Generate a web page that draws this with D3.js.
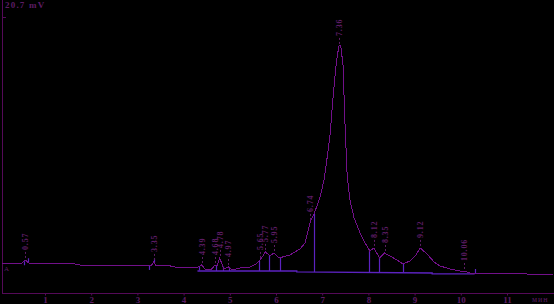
<!DOCTYPE html>
<html>
<head>
<meta charset="utf-8">
<script src="https://cdn.jsdelivr.net/npm/d3@7"></script>
<style>
  html, body { margin: 0; padding: 0; background: #000; }
  svg { display: block; }
  .tick text { font-family: "Liberation Serif", serif; }
</style>
</head>
<body>
<svg id="chart" width="554" height="304"></svg>
<script>
// chromatogram trace, time in min / signal in mV
var traceT = [0.07, 0.24, 0.50, 0.57, 0.65, 1.15, 1.22, 1.65, 1.76, 2.52, 2.62, 3.30, 3.35, 3.41, 3.71, 3.81,
              4.31, 4.39, 4.48, 4.59, 4.68, 4.72, 4.78, 4.87, 4.97, 5.05, 5.22, 5.44, 5.57, 5.65, 5.72, 5.77,
              5.87, 5.95, 6.07, 6.30, 6.52, 6.63, 6.70, 6.74, 6.84, 6.95, 7.04, 7.10, 7.17, 7.23, 7.30, 7.36,
              7.40, 7.45, 7.49, 7.54, 7.60, 7.69, 7.82, 7.93, 8.03, 8.12, 8.24, 8.35, 8.58, 8.75, 8.90, 9.03,
              9.12, 9.27, 9.42, 9.55, 9.77, 9.98, 10.06, 10.20, 10.85, 12.0];
var traceV = [2.25, 2.25, 2.25, 2.48, 2.25, 2.25, 2.18, 2.18, 2.10, 2.10, 2.03, 2.03, 2.33, 2.03, 2.03, 1.95,
              1.95, 2.10, 1.73, 1.73, 2.10, 2.03, 2.63, 1.80, 1.95, 1.73, 1.88, 1.95, 2.18, 2.48, 2.78, 3.08,
              2.78, 3.00, 2.63, 2.85, 3.30, 3.75, 4.73, 5.33, 6.08, 7.13, 8.48, 9.98, 11.85, 14.48, 17.10, 18.53,
              18.60, 17.10, 12.98, 8.85, 6.98, 5.63, 4.50, 3.75, 3.15, 3.38, 2.63, 3.00, 2.55, 2.18, 2.40, 2.85,
              3.38, 2.93, 2.33, 2.03, 1.80, 1.65, 1.65, 1.50, 1.50, 1.35];

// peak labels
var peakTimes  = [0.57, 3.35, 4.39, 4.68, 4.78, 4.97, 5.65, 5.77, 5.95, 6.74, 7.36, 8.12, 8.35, 9.12, 10.06];
var peakLabels = ["0.57", "3.35", "4.39", "4.68", "4.78", "4.97", "5.65", "5.77", "5.95", "6.74", "7.36",
                  "8.12", "8.35", "9.12", "10.06"];

// integration baseline and drop lines
var baseT = [4.30, 6.45, 6.45, 9.38, 9.38, 10.30];
var baseV = [1.65, 1.65, 1.58, 1.50, 1.43, 1.43];
var dropTimes = [4.70, 4.85, 4.98, 5.63, 5.85, 6.09, 6.82, 8.01, 8.23, 8.75];
// peak start / end markers
var startMarks = [0.54, 3.25, 4.33];
var endMarks   = [0.63, 3.36, 10.30];

var xTicks = [1, 2, 3, 4, 5, 6, 7, 8, 9, 10, 11];
var yMax = 20.7;

var traceColor = "#72108a";
var baseColor  = "#5c22c0";
var axisColor  = "#540a58";
var textColor  = "#5c1c64";

var svg = d3.select("#chart");
var x = d3.scaleLinear().domain([0, 12]).range([-1.2, 553.2]);
var y = d3.scaleLinear().domain([0, yMax]).range([293, 17]);

// value of trace at time t (for drop line tops)
function traceAt(t){
  let i = d3.bisectLeft(traceT, t);
  if (i <= 0) return traceV[0];
  if (i >= traceT.length) return traceV[traceT.length-1];
  let f = (t - traceT[i-1]) / (traceT[i] - traceT[i-1]);
  return traceV[i-1] + f*(traceV[i]-traceV[i-1]);
}
function baseAt(t){
  for (let i = 1; i < baseT.length; i++){
    if (t <= baseT[i]) {
      let d = baseT[i]-baseT[i-1];
      let f = d ? (t-baseT[i-1])/d : 0;
      return baseV[i-1] + f*(baseV[i]-baseV[i-1]);
    }
  }
  return baseV[baseV.length-1];
}

// axes
svg.append("line").attr("x1", 2.5).attr("x2", 2.5).attr("y1", 0).attr("y2", 293)
   .attr("stroke", axisColor).attr("stroke-width", 1);
svg.append("line").attr("x1", 2).attr("x2", 554).attr("y1", 293.5).attr("y2", 293.5)
   .attr("stroke", axisColor).attr("stroke-width", 1);
svg.append("line").attr("x1", 2).attr("x2", 6).attr("y1", y(yMax)+0.5).attr("y2", y(yMax)+0.5)
   .attr("stroke", axisColor);

var xAxis = svg.append("g").attr("transform", "translate(0,293.5)")
  .call(d3.axisBottom(x).tickValues(xTicks).tickSize(2).tickPadding(1).tickFormat(d3.format("d")));
xAxis.select(".domain").remove();
xAxis.selectAll(".tick line").attr("stroke", axisColor);
xAxis.selectAll(".tick text").attr("fill", textColor).attr("font-size", 9).attr("font-weight", "bold");

svg.append("text").attr("x", 532).attr("y", 302).text("мин")
   .attr("fill", textColor).attr("font-size", 8).attr("letter-spacing", 1)
   .attr("font-family", "Liberation Serif, serif");
svg.append("text").attr("x", 5).attr("y", 8).text("20.7 mV")
   .attr("fill", textColor).attr("font-size", 9).attr("letter-spacing", 1.2)
   .attr("font-family", "Liberation Serif, serif").attr("font-weight", "bold");
svg.append("text").attr("x", 4).attr("y", 271).text("A")
   .attr("fill", textColor).attr("font-size", 7)
   .attr("font-family", "Liberation Serif, serif");

// integration baseline
var baseLine = d3.line().x(function(d){ return x(d[0]); }).y(function(d){ return y(d[1]); });
svg.append("path").datum(d3.zip(baseT, baseV))
   .attr("d", baseLine).attr("fill", "none").attr("stroke", baseColor).attr("stroke-width", 1.3);

// drop lines
svg.selectAll(".drop").data(dropTimes).enter().append("line")
   .attr("class", "drop")
   .attr("x1", function(d){ return Math.round(x(d))+0.5; })
   .attr("x2", function(d){ return Math.round(x(d))+0.5; })
   .attr("y1", function(d){ return y(traceAt(d)); })
   .attr("y2", function(d){ return y(baseAt(d)); })
   .attr("stroke", baseColor).attr("stroke-width", 1.2);

// start / end markers
svg.selectAll(".smark").data(startMarks).enter().append("line")
   .attr("x1", function(d){ return Math.round(x(d))+0.5; })
   .attr("x2", function(d){ return Math.round(x(d))+0.5; })
   .attr("y1", function(d){ return y(traceAt(d)); })
   .attr("y2", function(d){ return y(traceAt(d))+4; })
   .attr("stroke", baseColor).attr("stroke-width", 1.2);
svg.selectAll(".emark").data(endMarks).enter().append("line")
   .attr("x1", function(d){ return Math.round(x(d))+0.5; })
   .attr("x2", function(d){ return Math.round(x(d))+0.5; })
   .attr("y1", function(d){ return y(traceAt(d)); })
   .attr("y2", function(d){ return y(traceAt(d))-4; })
   .attr("stroke", baseColor).attr("stroke-width", 1.2);

// trace
svg.append("path").datum(d3.zip(traceT, traceV))
   .attr("d", baseLine).attr("fill", "none").attr("stroke", traceColor).attr("stroke-width", 1)
   .attr("shape-rendering", "crispEdges");

// peak labels with dashed leaders
var peaks = svg.selectAll(".peak").data(d3.zip(peakTimes, peakLabels)).enter()
  .append("g").attr("class", "peak");
peaks.append("line")
  .attr("x1", function(d){ return Math.round(x(d[0]))+0.5; })
  .attr("x2", function(d){ return Math.round(x(d[0]))+0.5; })
  .attr("y1", function(d){ return y(traceAt(d[0]))-2; })
  .attr("y2", function(d){ return y(traceAt(d[0]))-9; })
  .attr("stroke", textColor).attr("stroke-dasharray", "2,2");
peaks.append("text")
  .attr("transform", function(d){
    return "translate(" + (x(d[0])+3) + "," + (y(traceAt(d[0]))-10) + ") rotate(-90)";
  })
  .text(function(d){ return d[1]; })
  .attr("fill", textColor).attr("font-size", 8).attr("letter-spacing", 0.8)
  .attr("font-family", "Liberation Serif, serif").attr("font-weight", "bold");
</script>
</body>
</html>
